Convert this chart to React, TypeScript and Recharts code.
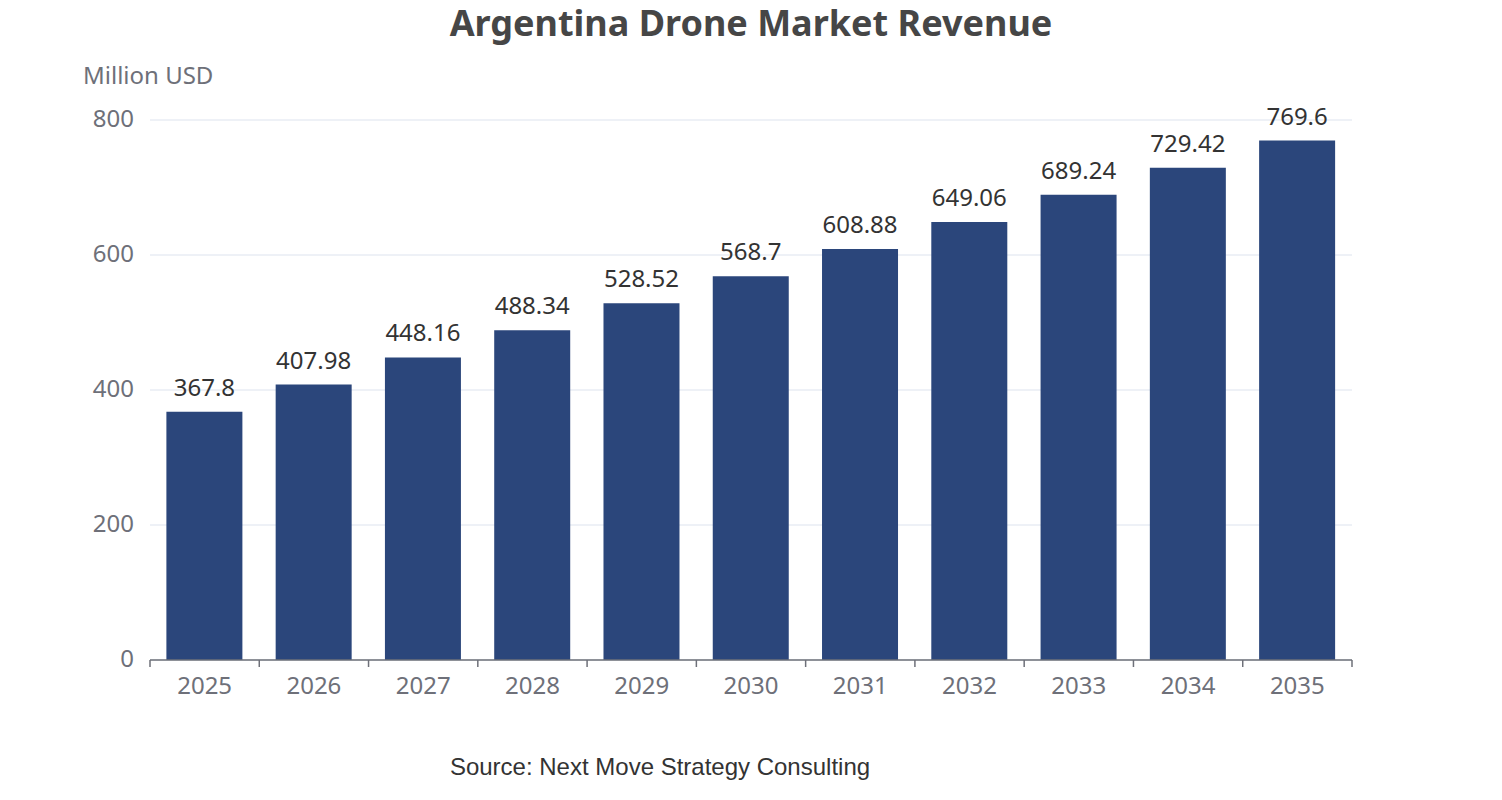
import React from 'react';
import { BarChart, Bar, XAxis, YAxis, CartesianGrid, LabelList } from 'recharts';

const YEARS = ['2025', '2026', '2027', '2028', '2029', '2030', '2031', '2032', '2033', '2034', '2035'];
const REVENUE = [367.8, 407.98, 448.16, 488.34, 528.52, 568.7, 608.88, 649.06, 689.24, 729.42, 769.6];
const Y_TICKS = [0, 200, 400, 600, 800];

const FONT = '"Noto Sans", "Open Sans", sans-serif';
const AXIS_COLOR = '#6e7079';
const BAR_COLOR = '#2b467b';

const PLOT_LEFT = 150;
const PLOT_RIGHT = 1352;
const BAND = (PLOT_RIGHT - PLOT_LEFT) / YEARS.length;

// x tick: label at category centre, tick marks on category boundaries (echarts style)
function YearTick(props: any) {
  const { x, y, payload, index } = props;
  const axisY = y - 8;
  const left = x - BAND / 2;
  return (
    <g>
      <line x1={left} y1={axisY} x2={left} y2={axisY + 7} stroke={AXIS_COLOR} strokeWidth={1.5} />
      {index === YEARS.length - 1 && (
        <line x1={x + BAND / 2} y1={axisY} x2={x + BAND / 2} y2={axisY + 7} stroke={AXIS_COLOR} strokeWidth={1.5} />
      )}
      <text x={x} y={axisY + 34} textAnchor="middle" fill={AXIS_COLOR} fontSize={24} fontFamily={FONT}>
        {payload.value}
      </text>
    </g>
  );
}

export default function App() {
  const data = YEARS.map((year, i) => ({ year, revenue: REVENUE[i] }));

  return (
    <div style={{ position: 'relative', width: 1502, height: 800, margin: -8, background: '#fff' }}>
      <div
        style={{
          position: 'absolute', top: 0, left: 0, width: 1502, textAlign: 'center',
          fontFamily: FONT, fontWeight: 700, fontSize: 36, color: '#464646', lineHeight: '46px',
        }}
      >
        Argentina Drone Market Revenue
      </div>
      <div
        style={{
          position: 'absolute', top: 60, left: 83, fontFamily: FONT, fontSize: 24,
          color: AXIS_COLOR, lineHeight: '30px',
        }}
      >
        Million USD
      </div>
      <BarChart
        width={1502}
        height={800}
        data={data}
        barCategoryGap="15%"
        margin={{ top: 120, right: 1502 - PLOT_RIGHT, left: PLOT_LEFT - 60, bottom: 80 }}
      >
        <CartesianGrid vertical={false} stroke="#dde3ee" />
        <XAxis
          dataKey="year"
          axisLine={{ stroke: AXIS_COLOR, strokeWidth: 1.5 }}
          tickLine={false}
          tick={<YearTick />}
          interval={0}
          height={60}
        />
        <YAxis
          width={60}
          domain={[0, 800]}
          ticks={Y_TICKS}
          axisLine={false}
          tickLine={false}
          tickSize={0}
          tickMargin={16}
          dy={-2}
          tick={{ fill: AXIS_COLOR, fontSize: 24, fontFamily: FONT }}
        />
        <Bar dataKey="revenue" fill={BAR_COLOR} isAnimationActive={false}>
          <LabelList dataKey="revenue" position="top" offset={16} fill="#333" fontSize={24} fontFamily={FONT} />
        </Bar>
      </BarChart>
      <div
        style={{
          position: 'absolute', top: 752, left: 0, width: 1320, textAlign: 'center', lineHeight: '30px',
          fontFamily: '"Liberation Sans", Arial, sans-serif', fontSize: 24, color: '#333',
        }}
      >
        Source: Next Move Strategy Consulting
      </div>
    </div>
  );
}
